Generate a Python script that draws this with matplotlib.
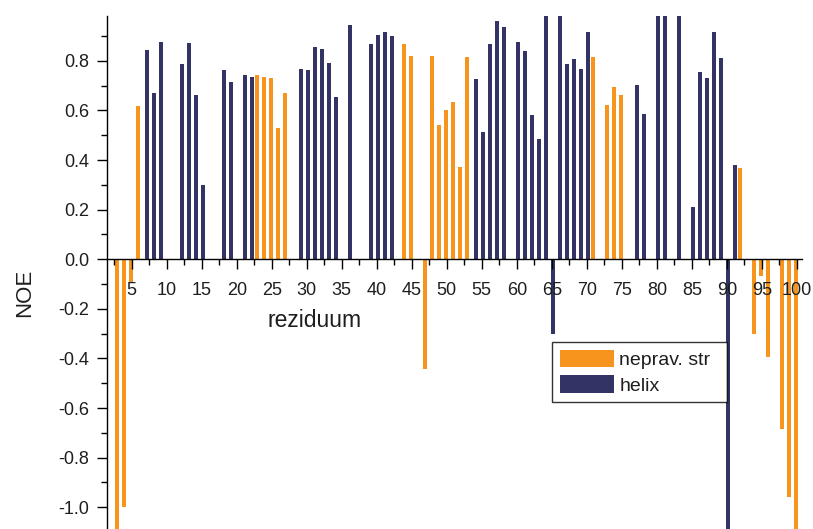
import numpy as np
import matplotlib
matplotlib.use('Agg')
import matplotlib.pyplot as plt
from matplotlib.ticker import MultipleLocator, FormatStrFormatter
from matplotlib.patches import Patch

plt.rcParams['font.family'] = 'Liberation Sans'
plt.rcParams['axes.unicode_minus'] = False

# NOE per residue, split by secondary structure
coil_res = [3, 4, 5, 6, 23, 24, 25, 26, 27, 44, 45, 47, 48, 49, 50, 51, 52, 53,
            71, 73, 74, 75, 92, 94, 95, 96, 98, 99, 100]
coil_noe = [-1.2, -1.0, -0.09, 0.62, 0.742, 0.735, 0.73, 0.531, 0.671, 0.869, 0.818,
            -0.441, 0.82, 0.543, 0.601, 0.636, 0.371, 0.814,
            0.814, 0.623, 0.696, 0.661, 0.369, -0.30, -0.066, -0.393, -0.684, -0.958, -1.2]

helix_res = [7, 8, 9, 12, 13, 14, 15, 18, 19, 21, 22, 29, 30, 31, 32, 33, 34, 36,
             39, 40, 41, 42, 54, 55, 56, 57, 58, 60, 61, 62, 63, 64, 65, 66, 67, 68,
             69, 70, 77, 78, 80, 81, 83, 85, 86, 87, 88, 89, 90, 91]
helix_noe = [0.844, 0.669, 0.876, 0.789, 0.871, 0.664, 0.298, 0.762, 0.716, 0.743,
             0.734, 0.769, 0.763, 0.855, 0.848, 0.793, 0.654, 0.945,
             0.867, 0.903, 0.915, 0.899, 0.726, 0.512, 0.869, 0.962, 0.937, 0.876,
             0.841, 0.583, 0.484, 1.0, -0.301, 1.0, 0.786, 0.809,
             0.766, 0.917, 0.703, 0.586, 1.0, 1.0, 1.0, 0.212, 0.754, 0.73, 0.915,
             0.813, -1.2, 0.38]

labels = ['neprav. str', 'helix']
c_coil = '#F7941D'
c_helix = '#333366'
txt = '#1e1e1e'

fig = plt.figure(figsize=(8.13, 5.29), dpi=100)
ax = fig.add_axes([0.1312, 0.0, 0.855, 0.9698])

w = 0.55
ax.bar(np.array(coil_res) - 0.14, coil_noe, width=w, color=c_coil, linewidth=0)
ax.bar(np.array(helix_res) + 0.18, helix_noe, width=w, color=c_helix, linewidth=0)

ax.set_xlim(1.43, 100.7)
ax.set_ylim(-1.0875, 0.981)

for s in ['top', 'right']:
    ax.spines[s].set_visible(False)
ax.spines['bottom'].set_position(('data', 0))
ax.spines['left'].set_linewidth(1.0)
ax.spines['bottom'].set_linewidth(1.0)

ax.xaxis.set_major_locator(MultipleLocator(5))
ax.xaxis.set_minor_locator(MultipleLocator(2.5))
ax.yaxis.set_major_locator(MultipleLocator(0.2))
ax.yaxis.set_minor_locator(MultipleLocator(0.1))
ax.yaxis.set_major_formatter(FormatStrFormatter('%.1f'))
ax.tick_params(which='major', direction='out', length=7.5, width=1.0,
               labelsize=13, labelcolor=txt, pad=5)
ax.tick_params(axis='x', which='major', pad=8.5)
ax.tick_params(which='minor', direction='out', length=4, width=1.0)

ax.text(-0.1175, 0.46, 'NOE', rotation=90, ha='center', va='center',
        fontsize=16, color=txt, transform=ax.transAxes)
ax.text(0.2992, 0.4064, 'reziduum', ha='center', va='center',
        fontsize=16.5, color=txt, transform=ax.transAxes)

# legend box stretched to a fixed width
handles = [Patch(facecolor=c_coil, label=labels[0]),
           Patch(facecolor=c_helix, label=labels[1])]
leg = ax.legend(handles=handles, loc='upper left', mode='expand',
                bbox_to_anchor=(552.3 / 813, 1 - 403.3 / 529, 174.4 / 813, 61 / 529),
                bbox_transform=fig.transFigure, fontsize=14,
                frameon=True, fancybox=False, edgecolor='black',
                handlelength=2.75, handleheight=1.0, handletextpad=0.3,
                labelspacing=0.3, borderpad=0.4, borderaxespad=0)
leg.get_frame().set_linewidth(1.0)
for t in leg.get_texts():
    t.set_color(txt)

fig.savefig('out.png', dpi=100)
